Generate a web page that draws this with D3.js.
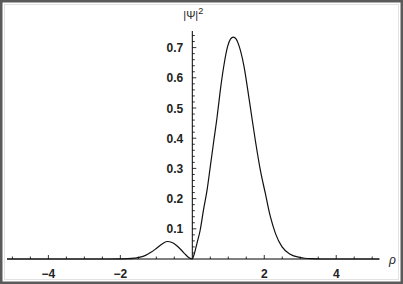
<!DOCTYPE html>
<html><head><meta charset="utf-8">
<script src="https://cdn.jsdelivr.net/npm/d3@7"></script>
<style>html,body{margin:0;padding:0;background:#fff}svg{display:block}</style>
</head><body>
<script>
// Data
const rho  = [-5.15,-2.5,-2.0,-1.8,-1.6,-1.45,-1.3,-1.15,-1.0,-0.85,-0.7,-0.55,-0.43,-0.3,-0.2,-0.1,0,
              0.05,0.13,0.22,0.31,0.41,0.5,0.59,0.69,0.78,0.87,0.98,1.06,1.14,1.22,1.29,1.43,1.59,1.75,1.89,2.03,2.17,2.31,2.49,2.72,3.0,3.3,3.6,5.2];
const psi2 = [0,0,0.0005,0.001,0.003,0.006,0.012,0.022,0.035,0.049,0.058,0.054,0.044,0.029,0.016,0.005,0,
              0.015,0.052,0.096,0.162,0.228,0.306,0.385,0.471,0.56,0.635,0.703,0.728,0.735,0.728,0.709,0.642,0.521,0.394,0.295,0.217,0.14,0.085,0.041,0.016,0.005,0.001,0,0];
const xMajor = [-4,-2,2,4];
const yMajor = [0.1,0.2,0.3,0.4,0.5,0.6,0.7];
const xLabel = "ρ";
const yLabel = "|Ψ|";

const W = 403, H = 284;
const svg = d3.select("body").append("svg").attr("width", W).attr("height", H);

// frame
svg.append("rect").attr("x",1.25).attr("y",1.25).attr("width",W-2.5).attr("height",H-2.5)
  .attr("fill","none").attr("stroke","#5a5a5a").attr("stroke-width",2.5);
svg.append("rect").attr("x",4.5).attr("y",4.5).attr("width",W-9).attr("height",H-9)
  .attr("fill","none").attr("stroke","#e2e2e2").attr("stroke-width",1);

const x = d3.scaleLinear().domain([-5.15,5.2]).range([7,379.4]);
const y = d3.scaleLinear().domain([0,0.755]).range([259,31]);

const g = svg.append("g");
const font = "'Liberation Sans', Arial, sans-serif";

// x axis
g.append("line").attr("x1",x(-5.15)).attr("x2",x(5.2)).attr("y1",y(0)).attr("y2",y(0))
  .attr("stroke","#000").attr("stroke-width",1);
const xMinor = d3.range(-5,5.01,0.5).filter(v => Math.abs(v) > 1e-9);
g.selectAll(".xt").data(xMinor).join("line")
  .attr("x1",d=>x(d)).attr("x2",d=>x(d))
  .attr("y1",y(0)).attr("y2",d=> y(0) - (Math.abs(d % 2) < 1e-9 ? 4 : 2.5))
  .attr("stroke","#000").attr("stroke-width",0.8);
g.selectAll(".xl").data(xMajor).join("text")
  .attr("x",d=>x(d)).attr("y",y(0)+19)
  .attr("text-anchor","middle").attr("font-family",font).attr("font-size",12).attr("font-weight","bold")
  .attr("fill","#222").text(d => d < 0 ? "\u2212" + Math.abs(d) : d);

// y axis
g.append("line").attr("x1",x(0)).attr("x2",x(0)).attr("y1",y(0)).attr("y2",y(0.755))
  .attr("stroke","#000").attr("stroke-width",1);
const yMinor = d3.range(0.02,0.751,0.02);
g.selectAll(".yt").data(yMinor).join("line")
  .attr("x1",x(0)).attr("x2",d=> x(0) + (Math.abs(Math.round(d*50)%5) === 0 ? 4 : 2.5))
  .attr("y1",d=>y(d)).attr("y2",d=>y(d))
  .attr("stroke","#000").attr("stroke-width",0.8);
g.selectAll(".yl").data(yMajor).join("text")
  .attr("x",x(0)-9).attr("y",d=>y(d)+4.5)
  .attr("text-anchor","end").attr("font-family",font).attr("font-size",12).attr("font-weight","bold")
  .attr("fill","#222").text(d=>d.toFixed(1));

// axis labels
g.append("text").attr("x",x(5.2)+13).attr("y",y(0)+5).attr("text-anchor","middle")
  .attr("font-family",font).attr("font-size",12).attr("font-style","italic").attr("fill","#222").text(xLabel);
const yl = g.append("text").attr("x",x(0)-9).attr("y",19)
  .attr("font-family",font).attr("font-size",11).attr("fill","#222");
yl.append("tspan").text(yLabel);
yl.append("tspan").attr("dy",-5).attr("font-size",9).text("2");

// curve
const line = d3.line().x((d,i)=>x(rho[i])).y((d,i)=>y(psi2[i])).curve(d3.curveMonotoneX);
g.append("path").datum(psi2).attr("d",line).attr("fill","none")
  .attr("stroke","#111").attr("stroke-width",1.2);
</script>
</body></html>
